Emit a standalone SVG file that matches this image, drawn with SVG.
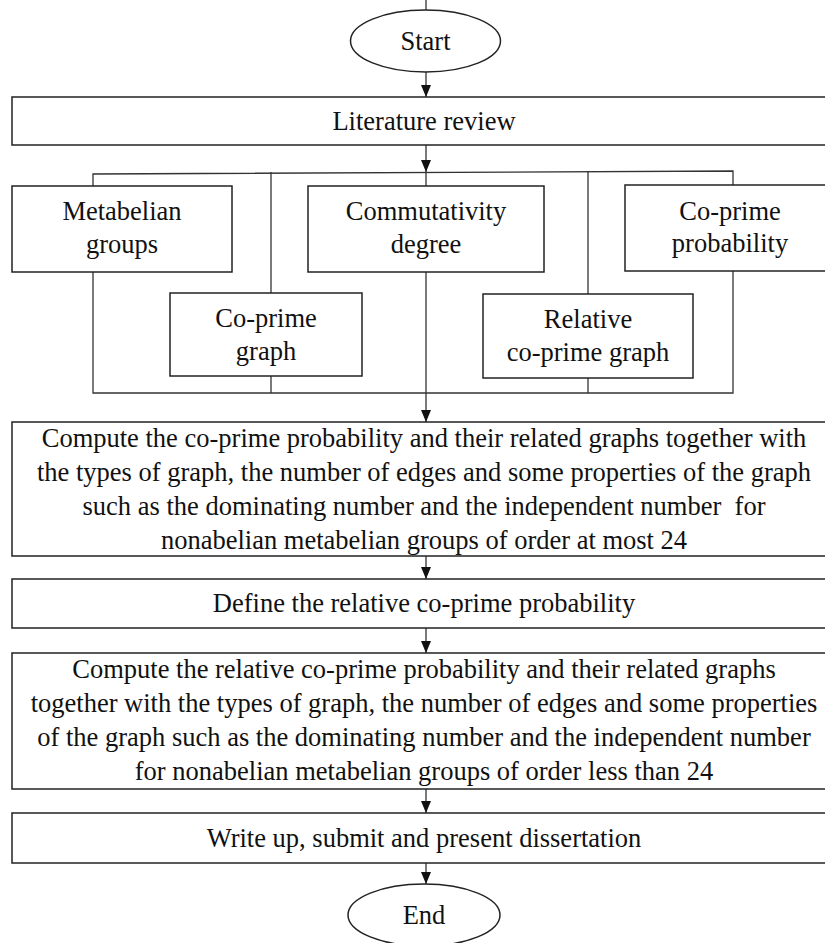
<svg xmlns="http://www.w3.org/2000/svg" width="825" height="943" viewBox="0 0 825 943">
<style>
.box{fill:#fff;stroke:#222;stroke-width:1.5}
.conn{fill:none;stroke:#333;stroke-width:1.3}
.t{font-family:"Liberation Serif","Times New Roman",serif;font-size:26.5px;fill:#111;text-anchor:middle;white-space:pre}
</style>
<defs>
<marker id="ah" viewBox="0 0 12 10" refX="12" refY="5" markerWidth="12" markerHeight="10" markerUnits="userSpaceOnUse" orient="auto">
<path d="M0,0 L12,5 L0,10 z" fill="#111"/>
</marker>
</defs>
<rect width="825" height="943" fill="#fff"/>
<g id="connectors">
<line class="conn" x1="426" y1="0" x2="426" y2="10"/>
<line class="conn" x1="426" y1="72" x2="426" y2="97" marker-end="url(#ah)"/>
<line class="conn" x1="426" y1="145" x2="426" y2="172" marker-end="url(#ah)"/>
<line class="conn" x1="426" y1="172" x2="426" y2="186"/>
<polyline class="conn" points="93,186 93,174 733,171 733,185"/>
<line class="conn" x1="271" y1="172" x2="271" y2="293"/>
<line class="conn" x1="588" y1="171" x2="588" y2="294"/>
<polyline class="conn" points="93,272 93,393 733,393 733,271"/>
<line class="conn" x1="271" y1="376" x2="271" y2="393"/>
<line class="conn" x1="588" y1="378" x2="588" y2="393"/>
<line class="conn" x1="426" y1="272" x2="426" y2="422" marker-end="url(#ah)"/>
<line class="conn" x1="426" y1="556" x2="426" y2="579" marker-end="url(#ah)"/>
<line class="conn" x1="426" y1="628" x2="426" y2="653" marker-end="url(#ah)"/>
<line class="conn" x1="426" y1="789" x2="426" y2="813" marker-end="url(#ah)"/>
<line class="conn" x1="426" y1="863" x2="426" y2="884" marker-end="url(#ah)"/>
</g>
<g id="start">
<ellipse class="box" cx="425.5" cy="41" rx="75" ry="31"/>
<text class="t" x="425.5" y="50">Start</text>
</g>
<g id="literature">
<rect class="box" x="12" y="97" width="823" height="48"/>
<text class="t" x="424" y="130">Literature review</text>
</g>
<g id="metabelian">
<rect class="box" x="12" y="186" width="220" height="86"/>
<text class="t" x="122" y="220">Metabelian</text>
<text class="t" x="122" y="253">groups</text>
</g>
<g id="commutativity">
<rect class="box" x="308" y="186" width="236" height="86"/>
<text class="t" x="426" y="220">Commutativity</text>
<text class="t" x="426" y="253">degree</text>
</g>
<g id="coprime-probability">
<rect class="box" x="625" y="185" width="210" height="86"/>
<text class="t" x="730" y="220">Co-prime</text>
<text class="t" x="730" y="252">probability</text>
</g>
<g id="coprime-graph">
<rect class="box" x="170" y="293" width="192" height="83"/>
<text class="t" x="266" y="327">Co-prime</text>
<text class="t" x="266" y="360">graph</text>
</g>
<g id="relative-coprime-graph">
<rect class="box" x="483" y="294" width="210" height="84"/>
<text class="t" x="588" y="328">Relative</text>
<text class="t" x="588" y="361">co-prime graph</text>
</g>
<g id="compute-coprime">
<rect class="box" x="12" y="422" width="823" height="134"/>
<text class="t" x="424" y="447">Compute the co-prime probability and their related graphs together with</text>
<text class="t" x="424" y="481">the types of graph, the number of edges and some properties of the graph</text>
<text class="t" x="424" y="515">such as the dominating number and the independent number  for</text>
<text class="t" x="424" y="549">nonabelian metabelian groups of order at most 24</text>
</g>
<g id="define">
<rect class="box" x="12" y="579" width="823" height="49"/>
<text class="t" x="424" y="612">Define the relative co-prime probability</text>
</g>
<g id="compute-relative">
<rect class="box" x="12" y="653" width="823" height="136"/>
<text class="t" x="424" y="678">Compute the relative co-prime probability and their related graphs</text>
<text class="t" x="424" y="712">together with the types of graph, the number of edges and some properties</text>
<text class="t" x="424" y="746">of the graph such as the dominating number and the independent number</text>
<text class="t" x="424" y="780">for nonabelian metabelian groups of order less than 24</text>
</g>
<g id="write-up">
<rect class="box" x="12" y="813" width="823" height="50"/>
<text class="t" x="424" y="847">Write up, submit and present dissertation</text>
</g>
<g id="end">
<ellipse class="box" cx="424" cy="915" rx="76" ry="31"/>
<text class="t" x="424" y="924">End</text>
</g>
</svg>
